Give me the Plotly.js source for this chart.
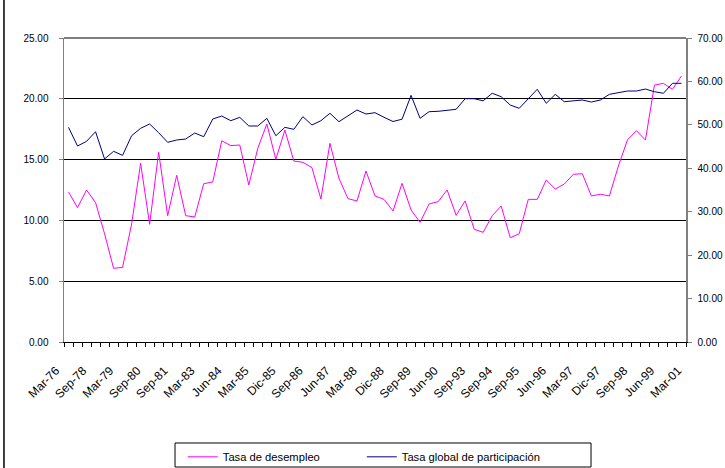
<!DOCTYPE html>
<html>
<head>
<meta charset="utf-8">
<script src="https://cdn.plot.ly/plotly-3.0.1.min.js"></script>
<style>
html,body{margin:0;padding:0;background:#fff;}
#chart{width:725px;height:468px;}
</style>
</head>
<body>
<div id="chart"></div>
<script>
const tickLabels = ['Mar-76','Sep-78','Mar-79','Sep-80','Sep-81','Mar-83','Jun-84','Mar-85','Dic-85','Sep-86','Jun-87','Mar-88','Dic-88','Sep-89','Jun-90','Sep-93','Sep-94','Sep-95','Jun-96','Mar-97','Dic-97','Sep-98','Jun-99','Mar-01'];

const desempleo = [12.34,11.05,12.50,11.46,8.90,6.06,6.14,9.70,14.70,9.68,
  15.60,10.39,13.71,10.39,10.28,13.02,13.16,16.55,16.15,16.20,
  12.91,15.93,17.93,15.02,17.43,14.88,14.78,14.34,11.76,16.34,
  13.46,11.79,11.60,14.06,12.01,11.73,10.77,13.05,10.86,9.84,
  11.35,11.54,12.50,10.42,11.60,9.27,9.02,10.39,11.18,8.58,
  8.90,11.73,11.73,13.32,12.58,12.99,13.79,13.84,12.01,12.15,
  12.01,14.47,16.61,17.38,16.61,21.13,21.27,20.78,21.88];

const participacion = [49.43,45.13,46.21,48.42,42.14,43.91,42.98,47.50,49.20,50.20,
  48.19,45.98,46.51,46.74,48.12,47.27,51.35,52.04,50.96,51.73,
  49.74,49.74,51.50,47.50,49.43,48.97,51.89,49.97,50.96,52.66,
  50.73,52.04,53.42,52.50,52.80,51.74,50.77,51.30,56.80,51.51,
  53.03,53.12,53.42,53.58,56.02,56.02,55.54,57.27,56.48,54.57,
  53.81,56.11,58.19,54.96,57.03,55.33,55.56,55.72,55.26,55.72,
  57.03,57.40,57.79,57.79,58.25,57.63,57.27,59.57,59.57];

const n = desempleo.length;
const xIdx = desempleo.map((_, i) => i);
// labels spread evenly across the full category band
const tickPos = tickLabels.map((_, k) => -0.5 + k * n / (tickLabels.length - 1));
const bounds = [];
for (let i = 0; i <= n; i++) bounds.push(i - 0.5);

const font = 'Arial, "Liberation Sans", sans-serif';

const traces = [
  {x: xIdx, y: desempleo, type: 'scatter', mode: 'lines', name: 'Tasa de desempleo',
   line: {color: '#FF00FF', width: 1}, yaxis: 'y'},
  {x: xIdx, y: participacion, type: 'scatter', mode: 'lines', name: 'Tasa global de participación',
   line: {color: '#000080', width: 1}, yaxis: 'y2'}
];

const layout = {
  width: 725, height: 468,
  margin: {l: 64, r: 39, t: 38, b: 126, autoexpand: false},
  paper_bgcolor: '#fff', plot_bgcolor: '#fff',
  font: {family: font, size: 10, color: '#000'},
  showlegend: true,
  xaxis: {
    range: [-0.5, n - 0.5], tickmode: 'array', tickvals: tickPos, ticktext: tickLabels,
    tickangle: -45, ticks: '', showgrid: false, zeroline: false, automargin: false,
    showline: true, linecolor: '#000', linewidth: 1,
    ticklabelstandoff: 16, ticklabelshift: -8,
    tickfont: {family: font, size: 12, color: '#000'},
    minor: {tickmode: 'array', tickvals: bounds, ticks: 'outside', ticklen: 4, tickcolor: '#000', tickwidth: 1, showgrid: false}
  },
  yaxis: {
    range: [0, 25], tickmode: 'linear', tick0: 0, dtick: 5, tickformat: '.2f',
    showgrid: true, gridcolor: '#000', gridwidth: 1, zeroline: false, automargin: false,
    showline: true, linecolor: '#808080', linewidth: 1.5,
    ticks: 'outside', ticklen: 4, tickcolor: '#808080', ticklabelstandoff: 8,
    tickfont: {family: font, size: 10, color: '#000'}
  },
  yaxis2: {
    range: [0, 70], tickmode: 'linear', tick0: 0, dtick: 10, tickformat: '.2f',
    overlaying: 'y', side: 'right', showgrid: false, zeroline: false, automargin: false,
    showline: true, linecolor: '#808080', linewidth: 1.5,
    ticks: 'outside', ticklen: 4, tickcolor: '#808080', ticklabelstandoff: 4,
    tickfont: {family: font, size: 10, color: '#000'}
  },
  legend: {
    orientation: 'h', x: 0.191, xanchor: 'left', y: -0.33, yanchor: 'top',
    borderwidth: 0, bgcolor: 'rgba(0,0,0,0)',
    font: {family: font, size: 11.2, color: '#000'},
    entrywidth: 134, entrywidthmode: 'pixels'
  },
  shapes: [
    {type: 'line', xref: 'paper', yref: 'paper', x0: -0.0965, x1: -0.0965, y0: 1.2, y1: -0.45,
     line: {color: '#000', width: 1.5}},
    {type: 'line', xref: 'paper', yref: 'paper', x0: 0, x1: 1, y0: 1, y1: 1,
     line: {color: '#000', width: 1}, layer: 'below'},
    {type: 'rect', xref: 'paper', yref: 'paper', x0: 0.1785, x1: 0.8473, y0: -0.3322, y1: -0.4112,
     line: {color: '#000', width: 1}, fillcolor: 'rgba(0,0,0,0)'}
  ]
};

Plotly.newPlot('chart', traces, layout, {displayModeBar: false, staticPlot: true});
</script>
</body>
</html>
